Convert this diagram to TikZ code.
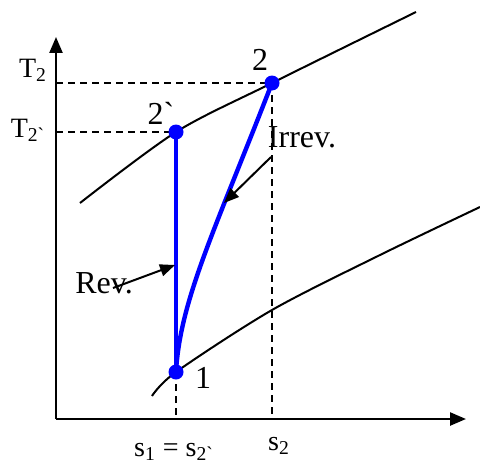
\documentclass[tikz,border=0pt]{standalone}
\usepackage{fontspec}
\setmainfont{Liberation Serif}
\usetikzlibrary{arrows.meta}

\tikzset{
  lbl/.style={inner sep=0pt, font=\fontsize{16}{18}\selectfont},
  axlbl/.style={inner sep=0pt, font=\fontsize{14}{16}\selectfont},
  guide/.style={black, line width=1pt, dash pattern=on 3.5pt off 2.5pt},
  process/.style={blue, line width=2.2pt},
  dot/.style={circle, fill=blue, minimum size=7.5pt, inner sep=0pt},
  pointer/.style={-{Triangle[length=7.5pt, width=6pt]}, line width=1pt}
}

\begin{document}
\begin{tikzpicture}[x=0.5pt, y=-0.5pt]
    \useasboundingbox (0,0) rectangle (480,465);
    % states
    \coordinate (O) at (56,419);
    \coordinate (p1) at (176,372);
    \coordinate (p2s) at (176,132);
    \coordinate (p2) at (272,83);
    % axes
    \draw[line width=1.2pt, -{Triangle[length=8pt, width=6.5pt]}] (O) -- (56,37);
    \draw[line width=1.2pt, -{Triangle[length=8pt, width=6.5pt]}] (O) -- (466,419);
    % isobars
    \draw[line width=1pt] plot[smooth] coordinates {(80,203) (176,132) (272,83) (416,12)};
    \draw[line width=1pt] plot[smooth] coordinates {(152,396) (176,372) (272,310) (380,255) (480,207)};
    % guide lines
    \draw[guide] (O |- p2) -- (p2);
    \draw[guide] (O |- p2s) -- (p2s);
    \draw[guide] (p2) -- (p2 |- O);
    \draw[guide] (p1) -- (p1 |- O);
    % processes
    \draw[process] (p1) -- (p2s);
    \draw[process] (p1) .. controls (180,300) and (215,230) .. (p2);
    \node[dot] (n1) at (p1) {};
    \node[dot] (n2s) at (p2s) {};
    \node[dot] (n2) at (p2) {};
    % labels
    \node[lbl] (l1) at (203,378) {1};
    \node[lbl] (l2) at (260,60) {2};
    \node[lbl] (l2s) at (161,113) {2\textasciigrave};
    \node[axlbl] (T2) at (33,70) {T\textsubscript{2}};
    \node[axlbl] (T2s) at (28,130) {T\textsubscript{2\textasciigrave}};
    \node[axlbl] (s1) at (174,452) {s\textsubscript{1} = s\textsubscript{2\textasciigrave}};
    \node[axlbl] (s2) at (279,446) {s\textsubscript{2}};
    \node[lbl] (irrev) at (302,137) {Irrev.};
    \node[lbl] (rev) at (104,283) {Rev.};
    % pointers
    \coordinate (revtail) at (113,288);
    \coordinate (revhead) at (175,265);
    \coordinate (irrtail) at (271,157);
    \coordinate (irrhead) at (224,203);
    \draw[pointer] (revtail) -- (revhead);
    \draw[pointer] (irrtail) -- (irrhead);
\end{tikzpicture}
\end{document}
